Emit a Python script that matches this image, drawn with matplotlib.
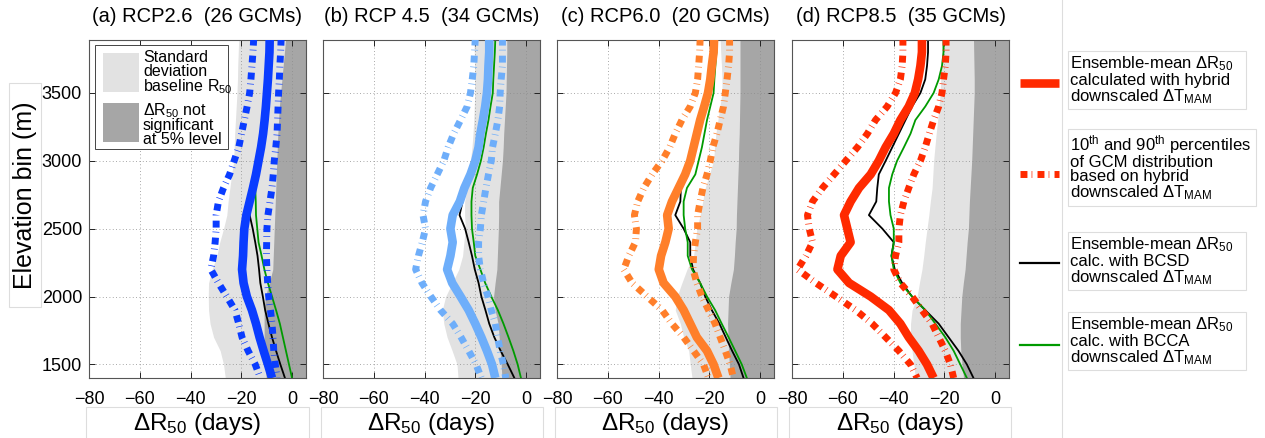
import numpy as np
import matplotlib
matplotlib.use('Agg')
import matplotlib.pyplot as plt
from matplotlib.patches import Rectangle
from matplotlib.lines import Line2D

plt.rcParams['font.family'] = 'Liberation Sans'
plt.rcParams['mathtext.fontset'] = 'custom'
plt.rcParams['mathtext.rm'] = 'Liberation Sans'
plt.rcParams['mathtext.it'] = 'Liberation Sans'
plt.rcParams['mathtext.default'] = 'regular'

# Elevation bins (m), top to bottom
elev = [3900, 3800, 3700, 3600, 3500, 3400, 3300, 3200, 3100, 3000,
        2900, 2800, 2700, 2600, 2500, 2400, 2300, 2200, 2100, 2000,
        1900, 1800, 1700, 1600, 1500, 1400]

titles = ['(a) RCP2.6  (26 GCMs)', '(b) RCP 4.5  (34 GCMs)',
          '(c) RCP6.0  (20 GCMs)', '(d) RCP8.5  (35 GCMs)']
colors = ['#0a3cff', '#6eaefa', '#ff7f2a', '#ff2a00']

# (a) RCP2.6
a_mean = [-8.8, -8.9, -9.2, -9.5, -9.9, -10.3, -10.8, -11.4, -12.2, -13.2,
          -14.2, -15.4, -16.7, -18.0, -18.8, -19.1, -19.3, -19.7, -19.1, -17.8,
          -15.8, -14.2, -12.8, -11.2, -9.5, -7.9]
a_p10 = [-15.1, -15.4, -15.8, -16.2, -16.7, -17.7, -18.8, -19.9, -21.0, -22.8,
         -24.6, -27.0, -29.0, -29.9, -29.9, -30.3, -30.9, -32.0, -29.0, -25.7,
         -22.5, -21.0, -19.7, -17.3, -14.5, -12.5]
a_p90 = [-4.3, -4.5, -4.8, -5.0, -5.3, -5.5, -5.7, -5.9, -6.4, -7.0,
         -7.4, -7.9, -8.7, -9.5, -9.9, -10.0, -10.1, -9.9, -9.6, -9.2,
         -8.5, -7.9, -7.5, -7.2, -6.6, -5.9]
a_bcsd = [-8.8, -8.9, -9.2, -9.5, -9.9, -10.3, -10.8, -11.4, -12.2, -13.2,
          -14.2, -15.4, -16.7, -16.7, -15.5, -14.5, -13.6, -13.0, -12.5, -11.5,
          -10.6, -9.3, -7.9, -6.3, -4.6, -2.8]
a_bcca = [-8.3, -8.4, -8.7, -9.0, -9.4, -9.8, -10.3, -10.9, -11.7, -12.7,
          -13.7, -14.5, -14.3, -14.2, -13.7, -13.2, -12.0, -10.9, -9.5, -7.9,
          -6.3, -4.8, -3.6, -2.4, -1.2, 0.0]
a_sd = [-21.0, -21.2, -21.4, -21.5, -21.7, -22.0, -22.3, -22.6, -22.8, -23.0,
        -23.8, -24.5, -25.2, -25.7, -27.0, -28.5, -29.6, -31.5, -32.9, -33.0,
        -32.9, -32.3, -30.9, -28.3, -27.0, -26.3]
a_sig = [-2.5, -3.0, -3.5, -4.0, -4.5, -5.0, -5.3, -5.6, -5.8, -6.0,
         -6.2, -6.4, -6.6, -6.8, -7.0, -7.2, -7.4, -7.6, -9.0, -10.5,
         -11.0, -11.0, -11.0, -10.8, -10.5, -10.2]

# (b) RCP4.5
b_mean = [-14.5, -14.5, -14.8, -15.0, -15.4, -16.1, -17.0, -18.0, -18.7, -20.0,
          -21.9, -24.3, -26.1, -28.9, -29.8, -28.9, -29.8, -31.1, -29.1, -25.8,
          -22.6, -20.0, -17.6, -15.4, -13.4, -12.1]
b_p10 = [-20.0, -20.3, -20.6, -21.2, -21.9, -23.2, -25.8, -28.5, -30.7, -32.4,
         -35.0, -37.6, -39.6, -40.6, -39.6, -40.9, -42.4, -43.5, -41.0, -37.5,
         -33.7, -28.9, -25.6, -22.6, -19.7, -17.6]
b_p90 = [-9.3, -9.3, -9.3, -9.8, -10.2, -10.4, -11.1, -12.1, -13.2, -13.7,
         -14.8, -15.8, -16.7, -17.6, -18.0, -18.7, -18.7, -18.0, -16.7, -15.0,
         -13.7, -12.1, -11.2, -10.2, -8.9, -8.0]
b_bcsd = [-14.5, -14.5, -14.8, -15.0, -15.4, -16.1, -17.0, -18.0, -18.7, -20.0,
          -21.9, -24.3, -25.0, -26.2, -24.0, -22.6, -21.3, -20.2, -18.7, -17.6,
          -16.0, -14.5, -12.5, -10.0, -7.2, -4.6]
b_bcca = [-12.1, -12.3, -12.6, -12.9, -13.1, -14.0, -14.8, -15.8, -16.7, -17.8,
          -19.3, -21.0, -21.5, -21.5, -21.3, -20.6, -20.0, -18.0, -16.1, -13.7,
          -11.1, -8.9, -6.9, -5.0, -3.3, -2.0]
b_sd = [-20.6, -20.4, -20.3, -20.3, -20.2, -20.4, -20.6, -20.9, -21.3, -21.9,
        -22.5, -23.2, -24.2, -24.2, -23.9, -24.5, -25.0, -26.5, -29.1, -31.7,
        -33.0, -32.4, -31.1, -29.1, -27.2, -26.8]
b_sig = [-7.6, -7.6, -7.7, -7.8, -7.9, -8.2, -8.5, -8.8, -9.0, -9.3,
         -9.8, -10.3, -10.8, -10.8, -10.9, -11.1, -11.3, -11.5, -12.2, -12.8,
         -12.2, -11.0, -10.6, -10.2, -9.8, -9.5]

# (c) RCP6.0
c_mean = [-18.1, -18.3, -19.0, -19.6, -20.5, -22.0, -23.6, -24.9, -26.2, -27.5,
          -29.5, -32.1, -34.7, -36.6, -36.0, -37.3, -39.0, -39.9, -38.0, -33.4,
          -30.1, -27.5, -24.9, -20.9, -18.3, -16.4]
c_p10 = [-23.6, -23.8, -24.2, -24.6, -25.5, -27.5, -30.8, -33.4, -35.6, -38.6,
         -42.5, -45.8, -48.2, -49.5, -48.7, -49.1, -51.7, -53.7, -50.4, -44.5,
         -38.6, -34.7, -30.1, -26.2, -22.3, -20.3]
c_p90 = [-12.0, -12.0, -12.4, -13.0, -13.7, -14.4, -15.7, -17.0, -18.6, -19.6,
         -20.9, -22.5, -23.6, -24.6, -24.6, -25.5, -26.2, -26.4, -24.9, -22.9,
         -20.3, -17.7, -15.7, -13.7, -11.8, -10.5]
c_bcsd = [-18.1, -18.3, -19.0, -19.6, -20.5, -22.0, -23.6, -24.9, -26.2, -27.5,
          -29.5, -31.2, -31.4, -33.4, -30.1, -27.5, -27.5, -26.4, -23.6, -21.6,
          -19.0, -16.0, -13.5, -11.0, -8.3, -6.5]
c_bcca = [-17.0, -17.2, -17.6, -18.0, -18.3, -19.6, -20.9, -21.9, -22.9, -24.2,
          -25.5, -28.8, -30.1, -30.1, -29.5, -28.5, -28.5, -26.8, -23.6, -20.9,
          -17.7, -15.1, -12.4, -9.8, -7.2, -5.2]
c_sd = [-15.7, -15.5, -15.2, -15.0, -15.0, -15.8, -16.6, -17.4, -17.9, -18.3,
        -20.0, -21.6, -22.6, -23.6, -24.9, -25.5, -26.2, -28.8, -30.8, -32.7,
        -33.4, -31.4, -30.1, -28.1, -27.5, -26.8]
c_sig = [-7.9, -7.9, -7.9, -7.9, -7.9, -8.0, -8.1, -8.2, -8.4, -8.5,
         -8.7, -8.9, -9.1, -9.3, -9.4, -9.8, -10.1, -10.5, -11.5, -12.4,
         -12.6, -12.8, -12.6, -12.4, -12.1, -11.8]

# (d) RCP8.5
d_mean = [-28.8, -28.8, -29.4, -30.3, -31.6, -34.0, -37.3, -39.9, -43.1, -45.8,
          -49.0, -53.6, -56.9, -59.5, -58.2, -56.9, -60.8, -62.1, -57.5, -49.0,
          -41.8, -37.3, -34.0, -30.1, -26.8, -24.2]
d_p10 = [-36.3, -36.3, -36.6, -37.3, -39.2, -42.5, -47.1, -50.3, -54.2, -58.8,
         -63.4, -68.0, -71.9, -73.9, -73.2, -71.9, -74.5, -77.8, -70.6, -62.7,
         -54.9, -48.4, -43.1, -37.9, -33.3, -30.7]
d_p90 = [-19.3, -19.3, -19.6, -20.3, -20.9, -22.2, -24.2, -25.9, -27.5, -29.4,
         -32.0, -34.0, -35.9, -37.3, -37.9, -37.9, -39.2, -39.9, -37.3, -32.7,
         -28.8, -24.8, -22.2, -19.6, -17.6, -16.3]
d_bcsd = [-26.4, -26.4, -26.8, -27.5, -29.4, -32.7, -35.3, -37.9, -40.5, -43.1,
          -45.8, -46.4, -46.8, -49.7, -44.4, -39.9, -40.8, -39.5, -36.6, -32.7,
          -27.5, -22.2, -18.3, -14.4, -11.1, -8.5]
d_bcca = [-20.3, -20.3, -20.9, -22.2, -24.2, -27.5, -31.4, -33.3, -35.9, -38.6,
          -40.5, -41.8, -41.8, -41.2, -39.9, -39.9, -40.8, -39.9, -37.3, -32.7,
          -27.5, -23.5, -19.6, -16.3, -13.7, -11.1]
d_sd = [-20.9, -21.0, -21.2, -21.4, -21.6, -22.1, -22.6, -23.2, -23.7, -24.2,
        -24.5, -24.8, -25.5, -26.1, -26.8, -27.5, -28.1, -28.8, -29.8, -30.7,
        -32.7, -33.3, -33.3, -32.7, -32.0, -31.4]
d_sig = [-8.5, -8.4, -8.3, -8.2, -8.2, -8.4, -8.6, -8.8, -9.0, -9.2,
         -9.5, -9.8, -10.1, -10.3, -10.5, -11.0, -11.4, -11.8, -12.5, -13.1,
         -13.4, -13.7, -13.7, -13.5, -13.0, -12.4]

panels = [
    (a_mean, a_p10, a_p90, a_bcsd, a_bcca, a_sd, a_sig),
    (b_mean, b_p10, b_p90, b_bcsd, b_bcca, b_sd, b_sig),
    (c_mean, c_p10, c_p90, c_bcsd, c_bcca, c_sd, c_sig),
    (d_mean, d_p10, d_p90, d_bcsd, d_bcca, d_sd, d_sig),
]

xticks = [-80, -60, -40, -20, 0]
yticks = [1500, 2000, 2500, 3000, 3500]

LIGHT = '#e2e2e2'
DARK = '#a6a6a6'
GREEN = '#009a00'
PCT_STYLE = (0, (1.0, 0.6, 0.1, 0.75))

W, H = 1265, 438


def fx(x):
    return x / W


def fy(y):
    return 1 - y / H


def frect(x0, y0, x1, y1, **kw):
    return Rectangle((fx(x0), fy(y1)), (x1 - x0) / W, (y1 - y0) / H,
                     transform=fig.transFigure, **kw)


fig = plt.figure(figsize=(12.65, 4.38), dpi=100)

lefts = [89, 323, 557, 792]
pw, top, bot = 217, 40, 378

for i, (left, data) in enumerate(zip(lefts, panels)):
    mean, p10, p90, bcsd, bcca, sd, sig = data
    ax = fig.add_axes([fx(left), fy(bot), pw / W, (bot - top) / H])
    ax.fill_betweenx(elev, sd, 6, color=LIGHT, lw=0, zorder=0.2)
    ax.fill_betweenx(elev, sig, 6, color=DARK, lw=0, zorder=0.3)
    ax.plot(bcsd, elev, color='black', lw=1.3, zorder=2)
    ax.plot(bcca, elev, color=GREEN, lw=1.3, zorder=2.1)
    ax.plot(mean, elev, color=colors[i], lw=6.2, solid_capstyle='butt', zorder=3)
    ax.plot(p10, elev, color=colors[i], lw=5, ls=PCT_STYLE, zorder=3)
    ax.plot(p90, elev, color=colors[i], lw=5, ls=PCT_STYLE, zorder=3)

    ax.set_xlim(-80, 5.5)
    ax.set_ylim(1400, 3890)
    ax.set_xticks(xticks)
    ax.set_xticklabels(['\u221280', '\u221260', '\u221240', '\u221220', '0'])
    ax.set_yticks(yticks)
    if i == 0:
        ax.set_yticklabels([str(v) for v in yticks])
    else:
        ax.set_yticklabels([])
    ax.tick_params(direction='in', length=4, width=0.7, top=True, right=True,
                   labelsize=13, colors='#222222', labelcolor='black')
    ax.tick_params(axis='x', pad=9)
    ax.tick_params(axis='y', pad=5)
    ax.grid(True, ls=(0, (1, 3)), color='#8c8c8c', lw=0.6)
    ax.set_axisbelow(True)
    for s in ax.spines.values():
        s.set_color('#555555')
        s.set_linewidth(0.8)

    cx = left + pw / 2
    fig.text(fx(cx), fy(17), titles[i], ha='center', va='center', fontsize=14.5)
    fig.add_artist(frect(cx - 111, 407, cx + 111, 445, facecolor='white',
                         edgecolor='#dddddd', lw=0.8, zorder=-1))
    fig.text(fx(cx), fy(424), '\u0394R$_{50}$ (days)', ha='center', va='center',
             fontsize=17.5)

# y label with faint box
fig.add_artist(frect(9, 83, 41, 307, facecolor='white', edgecolor='#dddddd',
                     lw=0.8, zorder=-1))
fig.text(fx(25), fy(195), 'Elevation bin (m)', rotation=90, ha='center',
         va='center', fontsize=18)

# legend inside panel (a)
fig.add_artist(frect(95, 45, 228, 149, facecolor='white', edgecolor='#444444',
                     lw=0.7, zorder=5))
fig.add_artist(frect(103, 53, 139, 92, facecolor=LIGHT, lw=0, zorder=6))
fig.add_artist(frect(103, 103, 139, 142, facecolor=DARK, lw=0, zorder=6))
fig.text(fx(143), fy(73), 'Standard\ndeviation\nbaseline R$_{50}$', ha='left',
         va='center', fontsize=11.5, linespacing=0.9, zorder=7)
fig.text(fx(143), fy(124), '\u0394R$_{50}$ not\nsignificant\nat 5% level',
         ha='left', va='center', fontsize=11.5, linespacing=0.9, zorder=7)

# right-hand legend
fig.add_artist(Line2D([fx(1062), fx(1062)], [0, 1], color='#dddddd', lw=0.8,
                      transform=fig.transFigure))
leg_items = [
    (83, dict(color=colors[3], lw=6.2, solid_capstyle='butt'),
     'Ensemble-mean \u0394R$_{50}$\ncalculated with hybrid\ndownscaled \u0394T$_{MAM}$',
     (51, 109, 1246)),
    (174, dict(color=colors[3], lw=5, ls=PCT_STYLE),
     '10$^{th}$ and 90$^{th}$ percentiles\nof GCM distribution\nbased on hybrid\ndownscaled \u0394T$_{MAM}$',
     (129, 206, 1256)),
    (263, dict(color='black', lw=1.6),
     'Ensemble-mean \u0394R$_{50}$\ncalc. with BCSD\ndownscaled \u0394T$_{MAM}$',
     (232, 290, 1246)),
    (345, dict(color=GREEN, lw=1.6),
     'Ensemble-mean \u0394R$_{50}$\ncalc. with BCCA\ndownscaled \u0394T$_{MAM}$',
     (312, 370, 1246)),
]
for ly, style, label, (by0, by1, bx1) in leg_items:
    fig.add_artist(Line2D([fx(1020), fx(1059)], [fy(ly), fy(ly)],
                          transform=fig.transFigure, **style))
    fig.add_artist(frect(1068, by0, bx1, by1, facecolor='white',
                         edgecolor='#dddddd', lw=0.8, zorder=-1))
    fig.text(fx(1070), fy((by0 + by1) / 2), label, ha='left', va='center',
             fontsize=12, linespacing=0.95)

fig.savefig('out.png', dpi=100)
